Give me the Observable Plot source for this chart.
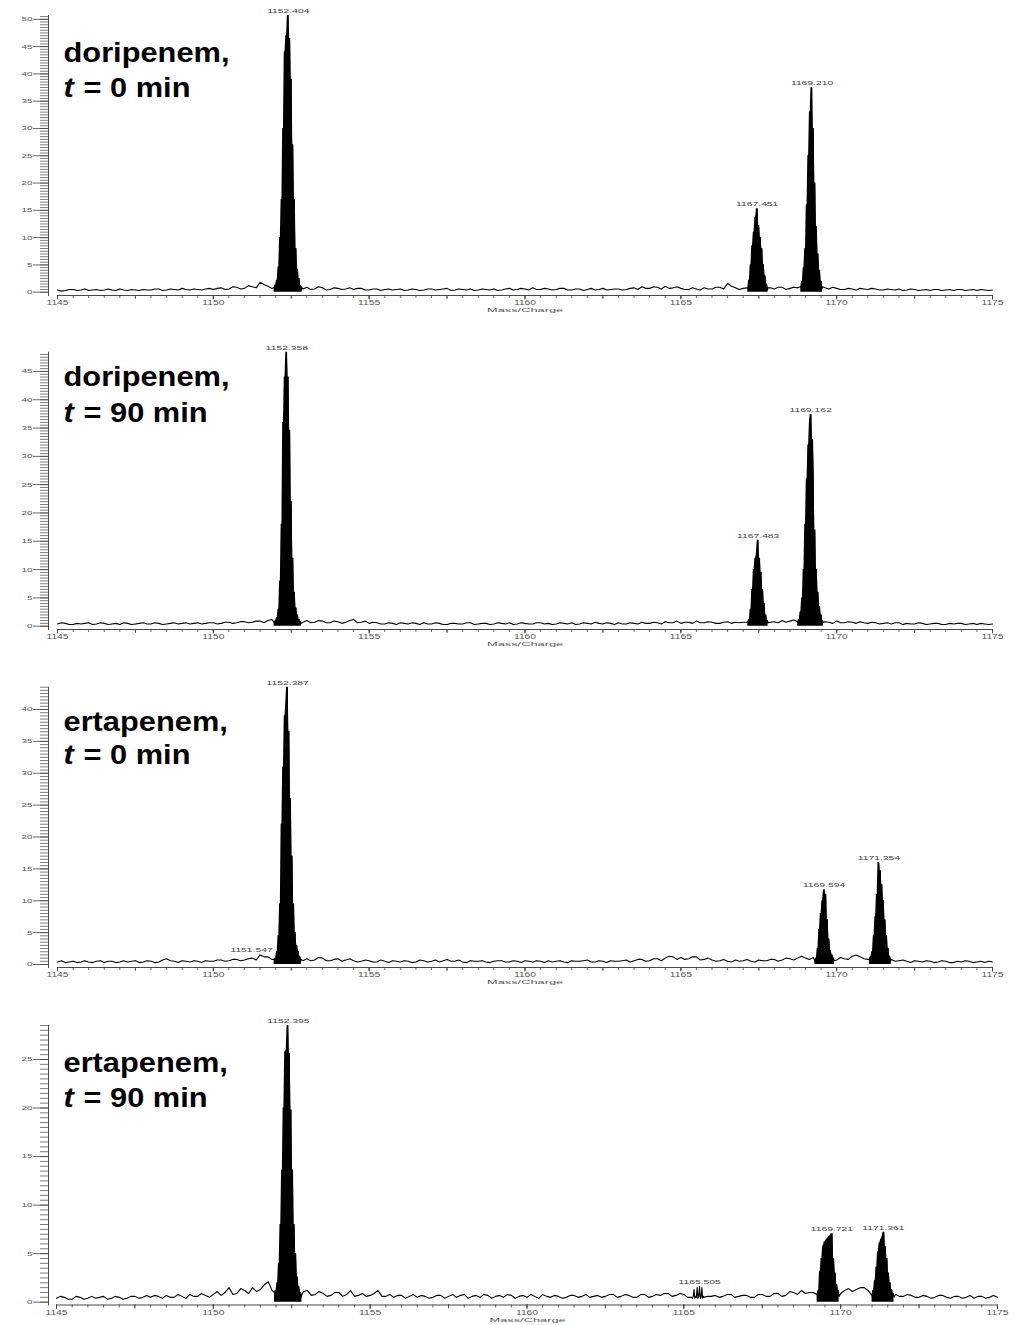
<!DOCTYPE html>
<html>
<head>
<meta charset="utf-8">
<script src="https://cdn.jsdelivr.net/npm/d3@7"></script>
<script src="https://cdn.jsdelivr.net/npm/@observablehq/plot@0.6"></script>
<style>
  html, body { margin: 0; padding: 0; background: #fff; }
  #chart svg { display: block; }
</style>
</head>
<body>
<div id="chart"></div>
<script>
// ---------- DATA ----------
const xTicks = [1145, 1150, 1155, 1160, 1165, 1170, 1175];
const gridStart = 1145;      // baseline samples every 0.25 m/z ...
const gridStep = 0.25;
const midStart = 1145.125;   // ... plus the in-between samples
const peakStep = 0.025;      // peak samples every 0.025 m/z

const drugNames = ["doripenem,", "doripenem,", "ertapenem,", "ertapenem,"];
const timePoints = ["0", "90", "0", "90"];

// Panel 1: doripenem, t = 0 min
const dori0Base = [
  0.4,0.3,0.5,0.4,0.3,0.5,0.4,0.4,0.6,0.3,0.4,0.5,
  0.4,0.6,0.4,0.5,0.7,0.4,0.5,0.6,
  0.5,0.8,0.6,0.9,0.7,1.0,1.8,1.1,
  0.8,0.8,0.8,0.8,
  0.9,0.6,0.8,0.5,0.7,0.6,0.5,0.7,
  0.4,0.6,0.5,0.4,0.6,0.4,0.5,0.4,
  0.6,0.5,0.7,0.4,0.5,0.6,0.4,0.5,
  0.6,0.4,0.7,0.5,0.6,0.8,0.5,0.6,
  0.5,0.7,0.4,0.6,0.5,0.4,0.7,0.5,
  0.6,0.5,0.8,1.0,0.7,0.9,1.1,0.8,
  0.7,0.5,0.6,0.8,0.6,0.9,1.6,0.8,
  0.7,0.8,0.8,0.8,0.6,0.9,0.7,0.8,
  0.8,0.8,0.8,0.6,0.7,0.5,0.6,0.7,
  0.5,0.6,0.4,0.5,0.6,0.4,0.5,0.4,
  0.3,0.5,0.4,0.3,0.5,0.4,0.3,0.4,
  0.4
];
const dori0Mid = [
  0.2,0.5,0.3,0.6,0.4,0.3,0.6,0.3,0.4,0.5,0.3,0.4,
  0.6,0.3,0.6,0.4,0.5,0.6,0.4,0.7,
  0.7,0.5,1.0,0.6,1.2,0.8,1.4,0.7,
  0.8,0.8,0.8,0.6,
  0.5,1.0,0.4,0.8,0.5,0.8,0.7,0.4,
  0.6,0.3,0.6,0.5,0.3,0.6,0.3,0.6,
  0.4,0.6,0.3,0.6,0.4,0.3,0.6,0.4,
  0.3,0.6,0.4,0.7,0.4,0.5,0.7,0.4,
  0.7,0.4,0.6,0.3,0.7,0.5,0.4,0.6,
  0.4,0.7,0.5,0.7,1.0,0.6,0.7,1.0,
  0.5,0.8,0.4,0.6,0.9,0.6,1.1,0.5,
  0.8,0.8,0.8,0.8,0.9,0.5,0.9,0.6,
  0.8,0.8,0.8,0.9,0.5,0.7,0.4,0.6,
  0.7,0.4,0.6,0.4,0.3,0.6,0.3,0.5,
  0.5,0.3,0.5,0.5,0.3,0.5,0.5,0.3
];
const dori0PeakStarts = [1151.95, 1167.15, 1168.85];
const dori0Peak1152 = [0.8,0.4,1.3,0.5,2.2,0.6,4.6,0.5,10,0.7,17,0.6,30,1.5,44,0.8,47,4,50.7,0.9,46.5,0.6,39,2.5,27,0.7,17,0.5,8,0.6,4.2,0.5,2.5,0.6,1.2,0.5,0.8];
const dori0Peak1167 = [0.8,0.4,2.2,0.5,5,0.6,8.5,0.7,11,0.5,13.7,1.2,15.3,0.6,12.2,0.8,10,0.5,8,0.7,5,0.5,3,0.5,1.5,0.4,0.8];
const dori0Peak1169 = [1.0,0.5,2.0,0.6,4.5,0.5,8,0.7,16,0.6,25,1.5,33,0.8,37.5,0.6,30,3,20,0.7,12,0.5,7,0.6,4,0.5,2,0.6,1.0];
const dori0LabelMz = [1152.404, 1167.451, 1169.210];
const dori0LabelInt = [50.7, 15.3, 37.5];

// Panel 2: doripenem, t = 90 min
const dori90Base = [
  0.4,0.5,0.3,0.4,0.6,0.4,0.5,0.4,0.3,0.5,0.4,0.6,
  0.4,0.5,0.4,0.6,0.5,0.4,0.6,0.5,
  0.6,0.5,0.7,0.6,0.8,0.7,0.9,1.0,
  0.8,0.8,0.8,0.8,
  1.0,0.7,0.9,0.6,0.8,0.7,1.2,0.7,
  0.5,0.6,0.4,0.5,0.6,0.4,0.5,0.6,
  0.4,0.5,0.3,0.5,0.4,0.6,0.4,0.5,
  0.4,0.5,0.6,0.4,0.5,0.4,0.6,0.5,
  0.4,0.5,0.6,0.4,0.5,0.7,0.4,0.5,
  0.6,0.4,0.5,0.7,0.5,0.6,0.8,0.6,
  0.5,0.7,0.9,0.6,0.7,0.5,0.8,0.7,
  0.7,0.7,0.7,0.7,0.8,1.0,0.9,1.2,
  0.8,0.8,0.8,0.7,0.9,0.6,0.7,0.8,
  0.5,0.6,0.5,0.4,0.6,0.5,0.4,0.5,
  0.4,0.5,0.3,0.4,0.5,0.4,0.3,0.4,
  0.4
];
const dori90Mid = [
  0.6,0.3,0.5,0.5,0.3,0.6,0.3,0.5,0.6,0.3,0.5,0.4,
  0.6,0.3,0.5,0.4,0.6,0.5,0.4,0.6,
  0.4,0.7,0.5,0.8,0.6,0.9,0.6,1.2,
  0.8,0.8,0.8,0.7,
  0.6,1.0,0.6,0.9,0.5,1.0,0.6,0.9,
  0.7,0.4,0.6,0.3,0.5,0.6,0.3,0.4,
  0.6,0.3,0.5,0.4,0.6,0.3,0.5,0.3,
  0.6,0.4,0.3,0.6,0.4,0.6,0.4,0.3,
  0.6,0.4,0.3,0.6,0.4,0.5,0.6,0.3,
  0.4,0.6,0.4,0.5,0.7,0.4,0.6,0.9,
  0.7,0.5,0.6,0.8,0.5,0.7,0.5,0.6,
  0.7,0.7,0.7,0.7,0.6,0.7,1.1,0.8,
  0.8,0.8,0.8,0.5,0.6,0.8,0.5,0.6,
  0.7,0.4,0.6,0.6,0.3,0.4,0.6,0.3,
  0.5,0.3,0.5,0.5,0.3,0.5,0.5,0.3
];
const dori90PeakStarts = [1151.95, 1167.15, 1168.75];
const dori90Peak1152 = [0.7,0.4,0.9,0.5,1.5,0.6,3,0.5,8,0.7,18,0.6,36,1.2,44,0.8,48.4,3,44,0.7,34.6,0.6,22,1,12,0.5,6,0.6,3.2,0.5,2,0.5,1.2,0.5,0.8,0.5];
const dori90Peak1167 = [0.8,0.4,1.2,0.5,3,0.6,6.5,0.5,10,0.8,12,0.6,12.8,15.2,0.7,12,1.5,9.5,0.6,6.5,0.5,4,0.6,2,0.5,1,0.6];
const dori90Peak1169 = [0.8,0.5,1.2,0.6,2.5,0.5,5,0.7,10,0.6,18,0.8,26,0.6,32,2,36,37.4,0.8,33,26,0.7,17,0.5,10,0.6,6,0.5,3.5,0.6,2,0.5,1,0.6];
const dori90LabelMz = [1152.358, 1167.483, 1169.162];
const dori90LabelInt = [48.4, 15.2, 37.4];

// Panel 3: ertapenem, t = 0 min
const erta0Base = [
  0.4,0.3,0.5,0.4,0.4,0.5,0.3,0.5,0.4,0.4,0.6,0.4,
  0.5,0.4,0.9,0.5,0.6,0.4,0.5,0.6,
  0.5,0.7,0.6,0.8,0.7,1.0,1.5,1.2,
  0.8,0.8,0.8,0.8,
  0.9,0.7,1.0,0.6,0.9,0.7,0.6,0.5,
  0.6,0.4,0.5,0.6,0.4,0.5,0.4,0.6,
  0.5,0.4,0.8,0.5,0.4,0.6,0.5,0.4,
  0.5,0.6,0.4,0.5,0.6,0.4,0.5,0.6,
  0.5,0.4,0.6,0.5,0.7,0.4,0.5,0.6,
  0.5,0.7,0.6,0.8,0.6,0.9,1.0,1.2,
  1.1,0.9,1.2,0.8,0.7,0.6,0.5,0.7,
  0.6,0.5,0.7,0.6,0.8,0.7,0.9,1.0,
  1.0,1.1,0.8,0.8,0.7,0.9,1.3,1.2,
  0.8,0.8,0.8,0.7,0.6,0.5,0.6,0.4,
  0.5,0.4,0.5,0.3,0.4,0.5,0.4,0.3,
  0.4
];
const erta0Mid = [
  0.6,0.4,0.3,0.6,0.3,0.6,0.5,0.3,0.6,0.5,0.3,0.6,
  0.3,0.7,0.6,0.3,0.5,0.6,0.3,0.5,
  0.7,0.5,0.8,0.6,0.9,0.7,1.2,0.8,
  0.8,0.8,0.8,0.6,
  0.6,1.1,0.6,0.8,0.5,0.9,0.4,0.7,
  0.4,0.7,0.3,0.5,0.6,0.3,0.7,0.4,
  0.7,0.6,0.5,0.7,0.3,0.5,0.6,0.3,
  0.6,0.4,0.6,0.3,0.5,0.6,0.3,0.4,
  0.6,0.3,0.5,0.6,0.4,0.6,0.3,0.5,
  0.6,0.4,0.8,0.5,0.9,0.6,1.3,0.8,
  0.8,1.2,0.7,1.0,0.5,0.8,0.4,0.5,
  0.8,0.4,0.6,0.8,0.5,1.0,0.7,1.3,
  0.8,0.8,0.8,0.8,1.1,0.8,1.5,0.9,
  0.8,0.8,0.8,0.5,0.7,0.3,0.5,0.6,
  0.3,0.6,0.3,0.5,0.6,0.3,0.5,0.5
];
const erta0PeakStarts = [1151.95, 1169.30, 1171.05];
const erta0Peak1152 = [0.8,0.5,1.0,0.5,2,0.6,4.5,0.5,9.5,0.7,22,0.6,31,1.2,39,0.8,41,43.5,0.9,36.6,2,26,0.6,17,0.7,9.5,0.5,5,0.6,3,0.5,2,0.5,1.2,0.5,0.8];
const erta0Peak1169 = [0.6,0.4,1,0.5,2.5,0.6,5.5,0.5,8,0.7,10,0.6,11.7,1.2,11,0.6,7,0.5,4,0.6,2.2,0.5,1.5,0.5,1,0.6];
const erta0Peak1171 = [0.8,0.5,1.2,0.5,2,0.6,4.5,0.5,7.5,0.7,11,0.6,16,1,14.7,0.7,12.5,0.6,10,0.8,7,0.5,4.5,0.6,2.5,0.5,1.3,0.5,0.8];
const erta0LabelMz = [1151.547, 1152.387, 1169.594, 1171.354];
const erta0LabelInt = [1.5, 43.5, 11.7, 16];

// Panel 4: ertapenem, t = 90 min
const erta90Base = [
  0.4,0.5,0.3,0.5,0.4,0.4,0.6,0.4,0.5,0.4,0.6,0.5,
  0.5,0.6,0.7,0.5,0.6,0.8,0.6,0.7,
  0.8,0.7,1.5,0.9,1.2,1.5,1.3,2.1,
  1.0,1.0,1.0,1.0,
  1.2,0.8,0.9,0.7,1.0,0.8,0.6,0.9,
  0.7,1.2,0.6,0.5,0.7,0.6,0.5,0.6,
  0.5,0.7,0.6,0.5,0.8,0.6,0.5,0.7,
  0.6,0.5,0.7,0.6,0.5,0.6,0.8,0.5,
  0.6,0.5,0.7,0.6,0.5,0.7,0.6,0.8,
  0.6,0.7,0.5,0.8,0.6,0.7,0.9,0.7,
  0.8,0.6,0.6,0.6,0.7,0.6,0.8,0.6,
  0.7,0.5,0.8,0.6,0.9,0.7,1.0,1.2,
  1.0,1.0,1.0,1.0,0.9,1.4,1.3,1.5,
  1.0,1.0,1.0,0.8,0.6,0.7,0.5,0.6,
  0.5,0.7,0.4,0.6,0.5,0.4,0.6,0.5,
  0.5
];
const erta90Mid = [
  0.6,0.3,0.6,0.3,0.6,0.5,0.3,0.6,0.3,0.6,0.4,0.7,
  0.7,0.4,0.5,0.8,0.4,0.6,0.9,0.5,
  1.1,1.0,0.8,1.4,0.9,1.1,1.8,1.2,
  1.0,1.0,1.0,1.1,
  0.7,1.1,0.6,1.0,0.6,1.2,0.7,0.6,
  0.9,0.6,0.8,0.7,0.4,0.8,0.7,0.4,
  0.7,0.4,0.8,0.7,0.4,0.7,0.8,0.4,
  0.7,0.8,0.4,0.7,0.8,0.4,0.6,0.7,
  0.4,0.7,0.5,0.8,0.6,0.5,0.8,0.5,
  0.8,0.5,0.8,0.5,0.8,0.9,0.6,0.9,
  0.5,0.6,0.6,0.6,0.5,0.8,0.5,0.7,
  0.5,0.8,0.6,0.9,0.6,1.1,0.8,0.9,
  1.0,1.0,1.0,1.0,1.2,1.1,1.5,1.2,
  1.0,1.0,1.0,0.6,0.8,0.5,0.7,0.4,
  0.7,0.5,0.6,0.4,0.7,0.6,0.4,0.7
];
const erta90PeakStarts = [1151.95, 1165.25, 1169.25, 1171.00];
const erta90Peak1152 = [1,0.5,1.2,0.6,2,0.5,4,0.7,8,0.6,13.6,0.8,20,0.6,25.8,1.5,26,28.5,0.7,25.6,0.6,19.8,1,13.6,0.5,8,0.6,5,0.5,2.6,0.6,1.6,0.5,1,0.5,0.8];
const erta90Peak1165 = [0.5,0.4,0.6,1.3,0.4,0.6,0.5,1.5,0.4,0.6,1.6,0.4,0.5,1.5,0.4,0.6,0.5];
const erta90Peak1169 = [0.8,0.4,1.2,0.5,3.2,0.5,4.5,0.6,5.8,0.5,6.2,0.7,6.4,0.5,6.6,1,6.8,0.6,6.9,7.05,0.5,4.5,0.6,3,0.5,1.8,0.5,1.2,0.6];
const erta90Peak1171 = [0.7,0.4,1.2,0.5,2.2,0.6,3.6,0.5,5.2,0.6,6.1,0.7,6.5,0.6,6.8,7.2,0.5,5.7,0.6,4.5,0.5,3,0.6,2,0.5,1.3,0.5,0.9,0.5];
const erta90LabelMz = [1152.395, 1165.505, 1169.721, 1171.361];
const erta90LabelInt = [28.5, 1.6, 7.05, 7.2];

// ---------- LAYOUT ----------
const layout = [
  {height: 337, marginTop: 15,   marginBottom: 42,   insetBottom: 3.3, insetLeft: 9, marginRight: 23, t1: 46.7, t2: 81.7},
  {height: 335, marginTop: 14.7, marginBottom: 43,   insetBottom: 3.3, insetLeft: 9, marginRight: 23, t1: 34,   t2: 70},
  {height: 338, marginTop: 14.7, marginBottom: 43,   insetBottom: 3,   insetLeft: 9, marginRight: 23, t1: 43.3, t2: 76.6},
  {height: 315, marginTop: 15,   marginBottom: 20.5, insetBottom: 2.8, insetLeft: 8, marginRight: 18, t1: 46.7, t2: 81.7}
];
const shiftedLabels = {"1151.547": -10};
const minBodyHeight = 3;   // tiny clusters stay as thin spikes, no filled body

const spectra = [
  {base: dori0Base,  mid: dori0Mid,  starts: dori0PeakStarts,  peaks: [dori0Peak1152, dori0Peak1167, dori0Peak1169], lmz: dori0LabelMz, lint: dori0LabelInt},
  {base: dori90Base, mid: dori90Mid, starts: dori90PeakStarts, peaks: [dori90Peak1152, dori90Peak1167, dori90Peak1169], lmz: dori90LabelMz, lint: dori90LabelInt},
  {base: erta0Base,  mid: erta0Mid,  starts: erta0PeakStarts,  peaks: [erta0Peak1152, erta0Peak1169, erta0Peak1171], lmz: erta0LabelMz, lint: erta0LabelInt},
  {base: erta90Base, mid: erta90Mid, starts: erta90PeakStarts, peaks: [erta90Peak1152, erta90Peak1165, erta90Peak1169, erta90Peak1171], lmz: erta90LabelMz, lint: erta90LabelInt}
];

function buildSpectrum(s) {
  const ranges = s.peaks.map((vals, k) => [s.starts[k], s.starts[k] + (vals.length - 1) * peakStep]);
  const outside = mz => !ranges.some(([a, b]) => mz >= a - 1e-6 && mz <= b + 1e-6);
  const pts = [];
  s.base.forEach((v, i) => { const mz = gridStart + i * gridStep; if (outside(mz)) pts.push({mz, v}); });
  s.mid.forEach((v, i) => { const mz = midStart + i * gridStep; if (outside(mz)) pts.push({mz, v}); });
  s.peaks.forEach((vals, k) => vals.forEach((v, i) => pts.push({mz: s.starts[k] + i * peakStep, v})));
  return pts.sort((a, b) => a.mz - b.mz);
}
// filled body under each peak: local maximum of neighbouring samples
function buildBodies(s) {
  const out = [];
  s.peaks.forEach((vals, k) => {
    if (d3.max(vals) < minBodyHeight) return;
    vals.forEach((v, i) => {
      const m = Math.max(vals[i - 1] ?? v, v, vals[i + 1] ?? v);
      out.push({mz: s.starts[k] + i * peakStep, v: m, k});
    });
  });
  return out;
}

function stretch(svg, size, factor) {
  svg.querySelectorAll(`g[font-size="${size}"] text`).forEach(t => {
    const w = t.getComputedTextLength();
    if (w > 0) {
      t.setAttribute("textLength", (w * factor).toFixed(2));
      t.setAttribute("lengthAdjust", "spacingAndGlyphs");
    }
  });
}

const FONT = "'Liberation Sans', Arial, Helvetica, sans-serif";
const chart = document.getElementById("chart");

spectra.forEach((s, p) => {
  const L = layout[p];
  const pts = buildSpectrum(s);
  const bodies = buildBodies(s);
  const yMax = d3.max(pts, d => d.v);
  const x0 = xTicks[0], x1 = xTicks[xTicks.length - 1];
  const majorY = d3.range(0, yMax + 1e-9, 5);
  const minorY = d3.range(0, yMax + 1e-9, 0.5);
  const minorX = d3.range(x0, x1 + 1e-9, 0.5);
  const midX = d3.range(x0, x1 + 1e-9, 2.5);
  const labels = s.lmz.map((mz, i) => ({mz, v: s.lint[i], key: mz.toFixed(3)}));
  const normalLabels = labels.filter(d => !(d.key in shiftedLabels));
  const movedLabels = labels.filter(d => d.key in shiftedLabels);

  const marks = [
    Plot.frame({anchor: "left", stroke: "#333", strokeWidth: 0.9}),
    Plot.ruleY([0], {x1: x0, x2: x1, dy: L.insetBottom, stroke: "#333", strokeWidth: 0.9}),
    Plot.axisY({ticks: minorY, anchor: "left", tickSize: 8, tickFormat: () => "", stroke: "#444", strokeWidth: 0.7, label: null}),
    Plot.axisY({ticks: majorY, anchor: "left", tickSize: 15, tickPadding: 1, tickFormat: d => String(d),
                fontSize: 6, fill: "#555", stroke: "#444", strokeWidth: 0.8, label: null}),
    Plot.axisX({ticks: minorX, anchor: "bottom", tickSize: 3, tickFormat: () => "", stroke: "#444", strokeWidth: 0.8, label: null}),
    Plot.axisX({ticks: midX, anchor: "bottom", tickSize: 4, tickFormat: () => "", stroke: "#444", strokeWidth: 0.8, label: null}),
    Plot.axisX({ticks: xTicks, anchor: "bottom", tickSize: 4.5, tickPadding: 0.5, tickFormat: d => String(d),
                fontSize: 6.5, fill: "#555", stroke: "#444", strokeWidth: 0.8, label: null}),
    Plot.areaY(bodies, {x: "mz", y: "v", z: "k", fill: "#000", curve: "linear"}),
    Plot.line(pts, {x: "mz", y: "v", stroke: "#000", strokeWidth: 1.1}),
    Plot.text(normalLabels, {x: "mz", y: "v", text: "key", dy: -2.5, lineAnchor: "bottom", fontSize: 5.9, fill: "#444"}),
    Plot.text(["Mass/Charge"], {frameAnchor: "bottom", dx: 4.6, dy: 12.5, lineAnchor: "top", fontSize: 6.1, fill: "#555"}),
    Plot.text([drugNames[p]], {frameAnchor: "top-left", textAnchor: "start", lineAnchor: "bottom", dx: 15, dy: L.t1,
               fontSize: 28, fontWeight: "bold", fill: "#000"}),
    Plot.text(["t"], {frameAnchor: "top-left", textAnchor: "start", lineAnchor: "bottom", dx: 15, dy: L.t2,
               fontSize: 28, fontWeight: "bold", fontStyle: "italic", fill: "#000"}),
    Plot.text([`= ${timePoints[p]} min`], {frameAnchor: "top-left", textAnchor: "start", lineAnchor: "bottom", dx: 35, dy: L.t2,
               fontSize: 28, fontWeight: "bold", fill: "#000"})
  ];
  movedLabels.forEach(d => {
    marks.push(Plot.text([d], {x: "mz", y: "v", text: "key", dx: shiftedLabels[d.key], dy: -2.5, lineAnchor: "bottom", fontSize: 5.9, fill: "#444"}));
  });

  const svg = Plot.plot({
    width: 1015,
    height: L.height,
    marginTop: L.marginTop,
    marginBottom: L.marginBottom,
    marginLeft: 48,
    marginRight: L.marginRight,
    insetLeft: L.insetLeft,
    insetRight: 0,
    insetTop: 0,
    insetBottom: L.insetBottom,
    x: {domain: [x0, x1]},
    y: {domain: [0, yMax]},
    style: {fontFamily: FONT, background: "#fff", color: "#000", overflow: "visible"},
    marks
  });
  chart.appendChild(svg);
  stretch(svg, 6.5, 1.58);
  stretch(svg, 6, 1.65);
  stretch(svg, 5.9, 1.75);
  stretch(svg, 6.1, 2.1);
  stretch(svg, 28, 1.1);
});
</script>
</body>
</html>
